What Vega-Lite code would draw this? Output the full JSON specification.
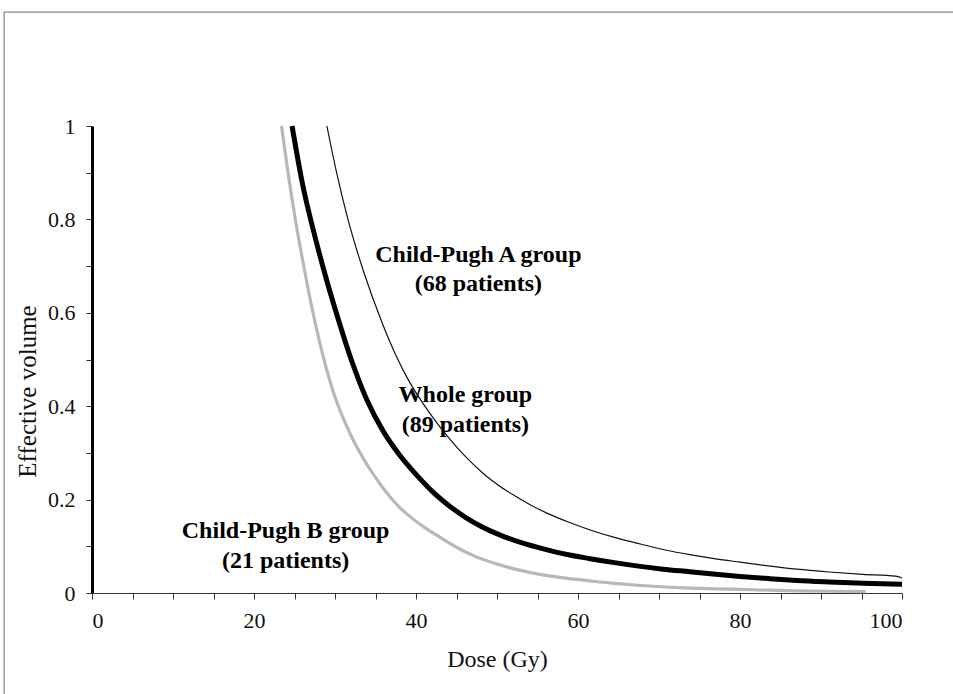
{
  "$schema": "https://vega.github.io/schema/vega-lite/v6.json",
  "autosize": "none",
  "padding": {"left": 92, "top": 126, "right": 51, "bottom": 101},
  "width": 810,
  "height": 467,
  "background": "white",
  "config": {"view": {"stroke": null}},
  "datasets": {
    "curves": [
      {"group": "B", "dose": 23.4, "volume": 1.0},
      {"group": "B", "dose": 24.2, "volume": 0.9},
      {"group": "B", "dose": 25.2, "volume": 0.79},
      {"group": "B", "dose": 26.2, "volume": 0.695},
      {"group": "B", "dose": 27.1, "volume": 0.615},
      {"group": "B", "dose": 28.2, "volume": 0.53},
      {"group": "B", "dose": 29.8, "volume": 0.43},
      {"group": "B", "dose": 31.9, "volume": 0.34},
      {"group": "B", "dose": 33.5, "volume": 0.288},
      {"group": "B", "dose": 35.1, "volume": 0.245},
      {"group": "B", "dose": 36.5, "volume": 0.212},
      {"group": "B", "dose": 38.0, "volume": 0.183},
      {"group": "B", "dose": 39.3, "volume": 0.163},
      {"group": "B", "dose": 41.0, "volume": 0.141},
      {"group": "B", "dose": 43.0, "volume": 0.119},
      {"group": "B", "dose": 45.0, "volume": 0.098},
      {"group": "B", "dose": 47.1, "volume": 0.08},
      {"group": "B", "dose": 50.0, "volume": 0.062},
      {"group": "B", "dose": 52.5, "volume": 0.05},
      {"group": "B", "dose": 55.3, "volume": 0.04},
      {"group": "B", "dose": 58.0, "volume": 0.033},
      {"group": "B", "dose": 61.5, "volume": 0.026},
      {"group": "B", "dose": 64.5, "volume": 0.0205},
      {"group": "B", "dose": 67.7, "volume": 0.016},
      {"group": "B", "dose": 70.8, "volume": 0.0128},
      {"group": "B", "dose": 73.8, "volume": 0.0105},
      {"group": "B", "dose": 77.0, "volume": 0.009},
      {"group": "B", "dose": 80.0, "volume": 0.0077},
      {"group": "B", "dose": 83.5, "volume": 0.006},
      {"group": "B", "dose": 87.0, "volume": 0.0047},
      {"group": "B", "dose": 91.0, "volume": 0.0037},
      {"group": "B", "dose": 95.5, "volume": 0.003},
      {"group": "A", "dose": 29.0, "volume": 1.0},
      {"group": "A", "dose": 30.2, "volume": 0.9},
      {"group": "A", "dose": 31.6, "volume": 0.8},
      {"group": "A", "dose": 33.5, "volume": 0.69},
      {"group": "A", "dose": 35.9, "volume": 0.575},
      {"group": "A", "dose": 37.6, "volume": 0.506},
      {"group": "A", "dose": 39.0, "volume": 0.458},
      {"group": "A", "dose": 40.9, "volume": 0.405},
      {"group": "A", "dose": 42.5, "volume": 0.366},
      {"group": "A", "dose": 44.2, "volume": 0.329},
      {"group": "A", "dose": 46.0, "volume": 0.294},
      {"group": "A", "dose": 48.3, "volume": 0.256},
      {"group": "A", "dose": 50.3, "volume": 0.229},
      {"group": "A", "dose": 52.4, "volume": 0.206},
      {"group": "A", "dose": 54.3, "volume": 0.187},
      {"group": "A", "dose": 56.3, "volume": 0.17},
      {"group": "A", "dose": 58.8, "volume": 0.152},
      {"group": "A", "dose": 61.5, "volume": 0.135},
      {"group": "A", "dose": 64.5, "volume": 0.119},
      {"group": "A", "dose": 67.7, "volume": 0.105},
      {"group": "A", "dose": 70.8, "volume": 0.092},
      {"group": "A", "dose": 73.8, "volume": 0.082},
      {"group": "A", "dose": 77.0, "volume": 0.073},
      {"group": "A", "dose": 80.0, "volume": 0.066},
      {"group": "A", "dose": 83.5, "volume": 0.058},
      {"group": "A", "dose": 87.0, "volume": 0.051},
      {"group": "A", "dose": 91.0, "volume": 0.045},
      {"group": "A", "dose": 95.2, "volume": 0.04},
      {"group": "A", "dose": 99.2, "volume": 0.036},
      {"group": "A", "dose": 100.0, "volume": 0.032},
      {"group": "Whole", "dose": 24.7, "volume": 1.0},
      {"group": "Whole", "dose": 26.0, "volume": 0.875},
      {"group": "Whole", "dose": 27.5, "volume": 0.765},
      {"group": "Whole", "dose": 29.0, "volume": 0.668},
      {"group": "Whole", "dose": 30.6, "volume": 0.575},
      {"group": "Whole", "dose": 32.0, "volume": 0.5},
      {"group": "Whole", "dose": 33.9, "volume": 0.415},
      {"group": "Whole", "dose": 36.0, "volume": 0.345},
      {"group": "Whole", "dose": 38.0, "volume": 0.295},
      {"group": "Whole", "dose": 40.0, "volume": 0.254},
      {"group": "Whole", "dose": 42.1, "volume": 0.216},
      {"group": "Whole", "dose": 44.0, "volume": 0.188},
      {"group": "Whole", "dose": 46.2, "volume": 0.161},
      {"group": "Whole", "dose": 48.0, "volume": 0.143},
      {"group": "Whole", "dose": 50.4, "volume": 0.124},
      {"group": "Whole", "dose": 53.0, "volume": 0.108},
      {"group": "Whole", "dose": 56.1, "volume": 0.093},
      {"group": "Whole", "dose": 58.5, "volume": 0.083},
      {"group": "Whole", "dose": 61.5, "volume": 0.0735},
      {"group": "Whole", "dose": 64.5, "volume": 0.065},
      {"group": "Whole", "dose": 67.7, "volume": 0.057},
      {"group": "Whole", "dose": 70.5, "volume": 0.051},
      {"group": "Whole", "dose": 73.8, "volume": 0.0455},
      {"group": "Whole", "dose": 77.0, "volume": 0.04},
      {"group": "Whole", "dose": 80.0, "volume": 0.0355},
      {"group": "Whole", "dose": 83.5, "volume": 0.031},
      {"group": "Whole", "dose": 87.0, "volume": 0.027},
      {"group": "Whole", "dose": 91.0, "volume": 0.0238},
      {"group": "Whole", "dose": 95.2, "volume": 0.021},
      {"group": "Whole", "dose": 100.0, "volume": 0.0186}
    ],
    "labels": [
      {"text": "Child-Pugh A group", "dose": 47.7, "volume": 0.709},
      {"text": "(68 patients)", "dose": 47.7, "volume": 0.647},
      {"text": "Whole group", "dose": 46.1, "volume": 0.41},
      {"text": "(89 patients)", "dose": 46.1, "volume": 0.345},
      {"text": "Child-Pugh B group", "dose": 23.9, "volume": 0.117},
      {"text": "(21 patients)", "dose": 23.9, "volume": 0.054}
    ],
    "frame": [
      {"dose": -10.85, "dose2": 130, "volume": 1.244, "volume2": -0.5}
    ]
  },
  "layer": [
    {
      "data": {"name": "frame"},
      "mark": {"type": "rect", "fill": null, "stroke": "#666666", "strokeWidth": 1},
      "encoding": {
        "x": {"field": "dose", "type": "quantitative", "scale": {"domain": [0, 100]}},
        "x2": {"field": "dose2"},
        "y": {"field": "volume", "type": "quantitative", "scale": {"domain": [0, 1]}},
        "y2": {"field": "volume2"}
      }
    },
    {
      "data": {"name": "curves"},
      "transform": [{"filter": "datum.group === 'B'"}],
      "mark": {"type": "line", "color": "#b8b8b8", "strokeWidth": 3.2, "interpolate": "monotone"},
      "encoding": {
        "x": {"field": "dose", "type": "quantitative"},
        "y": {"field": "volume", "type": "quantitative"}
      }
    },
    {
      "data": {"name": "curves"},
      "transform": [{"filter": "datum.group === 'A'"}],
      "mark": {"type": "line", "color": "#111111", "strokeWidth": 1.2, "interpolate": "monotone"},
      "encoding": {
        "x": {"field": "dose", "type": "quantitative"},
        "y": {"field": "volume", "type": "quantitative"}
      }
    },
    {
      "data": {"name": "curves"},
      "transform": [{"filter": "datum.group === 'Whole'"}],
      "mark": {"type": "line", "color": "#000000", "strokeWidth": 5, "interpolate": "monotone"},
      "encoding": {
        "x": {
          "field": "dose", "type": "quantitative",
          "scale": {"domain": [0, 100], "nice": false, "zero": false},
          "axis": {
            "title": "Dose (Gy)",
            "values": [0,5,10,15,20,25,30,35,40,45,50,55,60,65,70,75,80,85,90,95,100],
            "labelExpr": "datum.value % 20 === 0 ? datum.label : ''",
            "grid": false,
            "domainColor": "#333333", "domainWidth": 1,
            "tickColor": "#333333", "tickSize": 6, "tickWidth": 1,
            "labelFont": "Liberation Serif", "labelFontSize": 22, "labelColor": "#111111",
            "labelPadding": 11, "labelOverlap": false,
            "titleFont": "Liberation Serif", "titleFontSize": 24, "titleFontWeight": "normal",
            "titleColor": "#111111", "titlePadding": 16
          }
        },
        "y": {
          "field": "volume", "type": "quantitative",
          "scale": {"domain": [0, 1], "nice": false},
          "axis": {
            "title": "Effective volume",
            "values": [0,0.05,0.1,0.15,0.2,0.25,0.3,0.35,0.4,0.45,0.5,0.55,0.6,0.65,0.7,0.75,0.8,0.85,0.9,0.95,1],
            "labelExpr": "round(datum.value * 100) % 20 === 0 ? format(datum.value, '~g') : ''",
            "grid": false,
            "domainColor": "#000000", "domainWidth": 3,
            "tickColor": "#333333", "tickSize": 6, "tickWidth": 1,
            "labelFont": "Liberation Serif", "labelFontSize": 22, "labelColor": "#111111",
            "labelPadding": 11, "labelOverlap": false,
            "titleFont": "Liberation Serif", "titleFontSize": 25, "titleFontWeight": "normal",
            "titleColor": "#111111", "titlePadding": 7, "titleY": 265
          }
        }
      }
    },
    {
      "data": {"name": "labels"},
      "mark": {"type": "text", "font": "Liberation Serif", "fontWeight": "bold", "fontSize": 24, "align": "center", "baseline": "alphabetic", "color": "#000000"},
      "encoding": {
        "x": {"field": "dose", "type": "quantitative"},
        "y": {"field": "volume", "type": "quantitative"},
        "text": {"field": "text"}
      }
    }
  ]
}
